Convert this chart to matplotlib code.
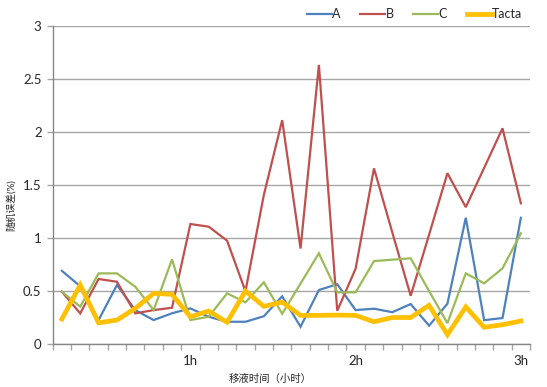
import matplotlib
matplotlib.use("Agg")
import matplotlib.pyplot as plt
from matplotlib.ticker import FixedLocator

plt.rcParams['font.family'] = ['Lato', 'Noto Sans CJK SC', 'DejaVu Sans']

n_points = 26
tick_labels = {7: "1h", 16: "2h", 25: "3h"}

series_names = ["A", "B", "C", "Tacta"]
A = [0.69, 0.545, 0.226, 0.556, 0.32, 0.226, 0.29, 0.336, 0.257, 0.21, 0.21, 0.262,
     0.45, 0.163, 0.509, 0.564, 0.32, 0.333, 0.30, 0.377, 0.173, 0.38, 1.19, 0.225,
     0.245, 1.19]
B = [0.493, 0.289, 0.613, 0.587, 0.289, 0.32, 0.342, 1.131, 1.106, 0.974, 0.497,
     1.404, 2.11, 0.9, 2.63, 0.314, 0.71, 1.656, 1.05, 0.455, 1.03, 1.61, 1.29, 1.66,
     2.033, 1.326]
C = [0.493, 0.352, 0.666, 0.666, 0.54, 0.32, 0.798, 0.226, 0.257, 0.478, 0.393, 0.582,
     0.285, 0.57, 0.855, 0.487, 0.487, 0.782, 0.795, 0.808, 0.5, 0.197, 0.666, 0.572,
     0.713, 1.043]
Tacta = [0.236, 0.556, 0.2, 0.226, 0.336, 0.478, 0.468, 0.257, 0.311, 0.205, 0.50,
         0.355, 0.395, 0.27, 0.27, 0.273, 0.27, 0.21, 0.25, 0.25, 0.365, 0.088, 0.35,
         0.158, 0.182, 0.217]

colors = ["#4F81BD", "#C0504D", "#9BBB59", "#FFC000"]
widths = [1.6, 1.6, 1.6, 3.4]

fig = plt.figure(figsize=(5.47, 3.87), dpi=100)
ax = fig.add_axes([0.0963, 0.111, 0.969 - 0.0963, 0.9336 - 0.111])

x = list(range(n_points))
for name, vals, c, lw in zip(series_names, [A, B, C, Tacta], colors, widths):
    ax.plot(x, vals, color=c, lw=lw, label=name, solid_joinstyle='miter')

ax.set_xlim(-0.5, n_points - 0.5)
ax.set_ylim(0, 3)
ax.set_yticks([0, 0.5, 1, 1.5, 2, 2.5, 3])
ax.set_yticklabels(["0", "0.5", "1", "1.5", "2", "2.5", "3"])
ax.yaxis.grid(True, color="#A6A6A6", lw=1.0)
ax.set_axisbelow(True)

ax.set_xticks(list(tick_labels.keys()))
ax.set_xticklabels(list(tick_labels.values()))
ax.xaxis.set_minor_locator(FixedLocator([i - 0.5 for i in range(n_points + 1)]))
ax.tick_params(axis='x', which='major', length=0, pad=8, labelsize=9.5, colors="#262626")
ax.tick_params(axis='x', which='minor', length=4, color="#A6A6A6", width=1)
ax.tick_params(axis='y', length=4, width=1, labelsize=9.5, pad=4, labelcolor="#262626",
               color="#A6A6A6")

for s in ["top", "right"]:
    ax.spines[s].set_visible(False)
for s in ["left", "bottom"]:
    ax.spines[s].set_color("#868686")
    ax.spines[s].set_linewidth(1.0)

ax.set_xlabel("移液时间（小时）", fontsize=7.5, color="#262626")
ax.xaxis.set_label_coords(0.455, -0.095)
fig.text(0.019, 0.47, "随机误差(%)", rotation=90, fontsize=7, color="#262626",
         ha='center', va='center')

leg = fig.legend(loc='center right', bbox_to_anchor=(0.975, 0.963), ncol=4, frameon=False,
                 fontsize=9, handlelength=2.0, handletextpad=0.0, columnspacing=1.6,
                 labelcolor="#262626")

fig.savefig("out.png", dpi=100)
